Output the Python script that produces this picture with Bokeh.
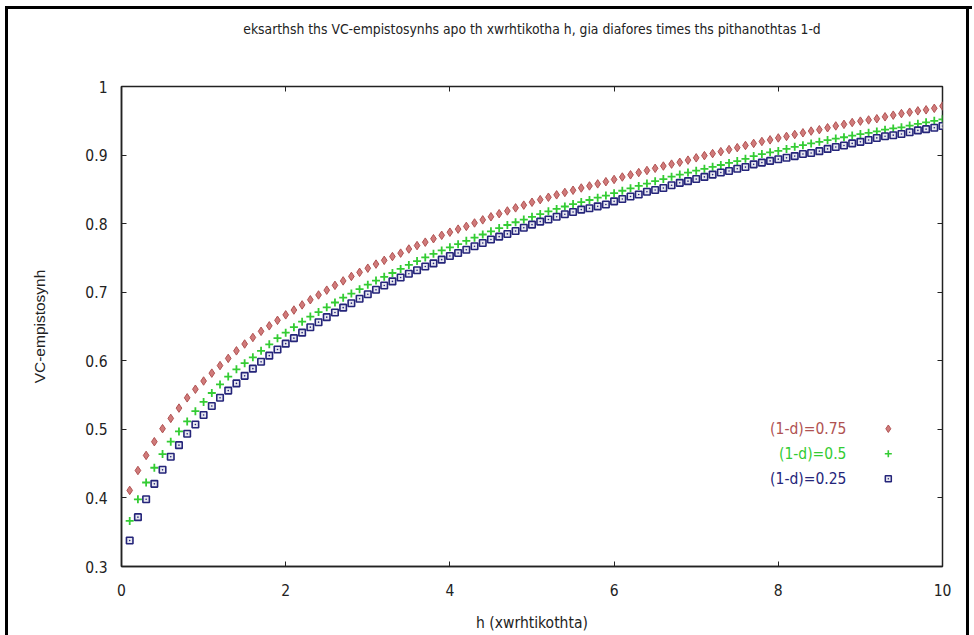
from bokeh.plotting import figure
from bokeh.models import Range1d, LinearAxis, FixedTicker, Label
from bokeh.embed import file_html
from bokeh.resources import INLINE

# h grid: 0.1 .. 10.0 in steps of 0.1
h = [round(0.1 * k, 1) for k in range(1, 101)]

# VC confidence for (1-d) = 0.75
conf_075 = [
    0.411, 0.440, 0.462, 0.482, 0.501, 0.516, 0.531, 0.546, 0.5585, 0.5705,
    0.582, 0.593, 0.6035, 0.6145, 0.6245, 0.634, 0.643, 0.651, 0.659, 0.667,
    0.674, 0.6815, 0.689, 0.696, 0.703, 0.710, 0.7165, 0.723, 0.729, 0.735,
    0.741, 0.7465, 0.752, 0.757, 0.763, 0.768, 0.773, 0.778, 0.783, 0.7875,
    0.792, 0.796, 0.801, 0.8055, 0.810, 0.8145, 0.8185, 0.823, 0.827, 0.8312,
    0.835, 0.8385, 0.842, 0.8455, 0.8487, 0.852, 0.855, 0.858, 0.8612, 0.8644,
    0.868, 0.8712, 0.8745, 0.8775, 0.8807, 0.884, 0.8868, 0.8895, 0.8926, 0.896,
    0.8992, 0.9022, 0.905, 0.908, 0.9108, 0.914, 0.917, 0.9198, 0.9222, 0.925,
    0.9272, 0.930, 0.9325, 0.935, 0.937, 0.9398, 0.9425, 0.9448, 0.9475, 0.9495,
    0.9512, 0.953, 0.9558, 0.9582, 0.9605, 0.9625, 0.9645, 0.966, 0.9682, 0.9715,
]

# VC confidence for (1-d) = 0.5
conf_050 = [
    0.3665, 0.398, 0.4225, 0.444, 0.464, 0.482, 0.497, 0.5115, 0.5265, 0.540,
    0.553, 0.5655, 0.577, 0.5875, 0.5965, 0.605, 0.6145, 0.624, 0.633, 0.641,
    0.649, 0.657, 0.6645, 0.671, 0.678, 0.685, 0.692, 0.698, 0.7045, 0.711,
    0.717, 0.7225, 0.728, 0.734, 0.7398, 0.7454, 0.7508, 0.756, 0.761, 0.7655,
    0.770, 0.775, 0.7795, 0.7842, 0.7888, 0.7935, 0.798, 0.802, 0.806, 0.810,
    0.814, 0.818, 0.8215, 0.825, 0.8285, 0.8315, 0.8345, 0.8378, 0.841, 0.8445,
    0.848, 0.8515, 0.855, 0.8585, 0.862, 0.865, 0.8685, 0.8715, 0.8745, 0.8772,
    0.880, 0.8828, 0.8855, 0.8885, 0.8912, 0.8945, 0.8985, 0.9015, 0.904, 0.906,
    0.909, 0.912, 0.9145, 0.917, 0.9193, 0.9218, 0.924, 0.926, 0.9285, 0.9306,
    0.9325, 0.9345, 0.937, 0.9389, 0.9405, 0.943, 0.9455, 0.9478, 0.950, 0.9521,
]

# VC confidence for (1-d) = 0.25
conf_025 = [
    0.338, 0.372, 0.398, 0.4205, 0.441, 0.460, 0.477, 0.4935, 0.507, 0.521,
    0.534, 0.546, 0.5565, 0.567, 0.578, 0.5885, 0.5985, 0.6075, 0.6165, 0.625,
    0.633, 0.641, 0.649, 0.6563, 0.6636, 0.6705, 0.6775, 0.684, 0.6905, 0.697,
    0.7035, 0.7098, 0.7158, 0.7215, 0.727, 0.732, 0.7375, 0.742, 0.7475, 0.7528,
    0.7572, 0.762, 0.767, 0.7717, 0.7768, 0.781, 0.785, 0.7893, 0.794, 0.7985,
    0.803, 0.806, 0.810, 0.8137, 0.817, 0.8205, 0.8225, 0.8252, 0.828, 0.8325,
    0.836, 0.8395, 0.8425, 0.8465, 0.849, 0.852, 0.856, 0.8595, 0.862, 0.865,
    0.8682, 0.8715, 0.8745, 0.8768, 0.880, 0.8825, 0.8865, 0.889, 0.8915, 0.894,
    0.896, 0.8985, 0.9015, 0.903, 0.9057, 0.909, 0.9118, 0.914, 0.917, 0.9193,
    0.922, 0.925, 0.9275, 0.929, 0.9308, 0.9332, 0.936, 0.9378, 0.9398, 0.9423,
]

title_text = "eksarthsh ths VC-empistosynhs apo th xwrhtikotha h, gia diafores times ths pithanothtas 1-d"
series_labels = ["(1-d)=0.75", "(1-d)=0.5", "(1-d)=0.25"]
x_ticks = [0, 2, 4, 6, 8, 10]
y_ticks = [0.3, 0.4, 0.5, 0.6, 0.7, 0.8, 0.9, 1.0]

NARROW = "'DejaVu Sans Condensed', 'Liberation Sans Narrow', 'Liberation Sans', sans-serif"
REGULAR = "'Liberation Sans', Arial, sans-serif"
TXT = "#222222"
FS = "15.5px"

p = figure(
    width=974, height=635,
    x_range=Range1d(0, 10), y_range=Range1d(0.3, 1.0),
    output_backend="svg", toolbar_location=None,
    min_border_left=121, min_border_right=32,
    min_border_top=86, min_border_bottom=69,
    x_axis_label="h (xwrhtikothta)", y_axis_label="VC-empistosynh",
)
# transparent outer canvas so the page frame drawn by the host element shows through
p.background_fill_color = "white"
p.border_fill_color = None
p.styles = {
    "background-color": "white",
    "background-image": "linear-gradient(#000, #000), linear-gradient(#000, #000), linear-gradient(#000, #000)",
    "background-size": "3px 700px, 967px 3px, 3px 700px",
    "background-position": "5px 6px, 5px 6px, 966px 6px",
    "background-repeat": "no-repeat",
}
p.outline_line_color = "#222222"
p.outline_line_width = 1.5
p.xgrid.visible = False
p.ygrid.visible = False

for ax in (p.xaxis[0], p.yaxis[0]):
    ax.axis_line_color = "#222222"
    ax.axis_line_width = 1.5
    ax.major_tick_in = 5
    ax.major_tick_out = 0
    ax.minor_tick_line_color = None
    ax.major_tick_line_color = "#222222"
    ax.major_label_text_font = NARROW
    ax.major_label_text_font_size = FS
    ax.major_label_text_color = TXT
    ax.axis_label_text_font_size = FS
    ax.axis_label_text_font_style = "normal"
    ax.axis_label_text_color = TXT

p.xaxis[0].ticker = FixedTicker(ticks=x_ticks)
p.yaxis[0].ticker = FixedTicker(ticks=y_ticks)
p.yaxis[0].major_label_overrides = {1: "1"}
p.xaxis[0].axis_label_text_font = NARROW
p.yaxis[0].axis_label_text_font = REGULAR
p.xaxis[0].major_label_standoff = 17
p.yaxis[0].major_label_standoff = 14
p.xaxis[0].axis_label_standoff = 15
p.yaxis[0].axis_label_standoff = 34

# mirrored tick marks on the top edge; the chart heading sits above them
top_ax = LinearAxis(ticker=FixedTicker(ticks=x_ticks), major_tick_in=5, major_tick_out=0,
                    minor_tick_line_color=None, axis_line_color=None,
                    major_tick_line_color="#222222",
                    major_label_text_font_size="1px", major_label_text_color=None,
                    major_label_standoff=0,
                    axis_label=title_text, axis_label_text_font=NARROW,
                    axis_label_text_font_size="13.8px", axis_label_text_font_style="normal",
                    axis_label_text_color=TXT, axis_label_standoff=50)
# mirrored tick marks on the right edge
right_ax = LinearAxis(ticker=FixedTicker(ticks=y_ticks), major_tick_in=5, major_tick_out=0,
                      minor_tick_line_color=None, axis_line_color=None,
                      major_tick_line_color="#222222",
                      major_label_text_font_size="1px", major_label_text_color=None,
                      major_label_standoff=0)
p.add_layout(top_ax, "above")
p.add_layout(right_ax, "right")

RED_FILL, RED_LINE = "#d07a7a", "#b05252"
GREEN = "#33cc33"
BLUE = "#25257a"

p.scatter(h, conf_075, marker="diamond", size=8.5, fill_color=RED_FILL, line_color=RED_LINE, line_width=1)
p.scatter(h, conf_050, marker="cross", size=8, line_color=GREEN, line_width=1.8)
p.scatter(h, conf_025, marker="square_dot", size=6.5, fill_color="#e8e8f0", line_color=BLUE, line_width=1.6)

# key: coloured label on the left, sample marker on the right
key_y = [0.5009, 0.4644, 0.4279]
key_colors = [RED_LINE, GREEN, BLUE]
for lab, yy, col in zip(series_labels, key_y, key_colors):
    p.add_layout(Label(x=8.83, y=yy, text=lab, text_align="right", text_baseline="middle",
                       text_font=NARROW, text_font_size=FS, text_color=col))
p.scatter([9.34], [key_y[0]], marker="diamond", size=7.5, fill_color=RED_FILL, line_color=RED_LINE, line_width=1)
p.scatter([9.34], [key_y[1]], marker="cross", size=7, line_color=GREEN, line_width=1.6)
p.scatter([9.34], [key_y[2]], marker="square_dot", size=6, fill_color="#e8e8f0", line_color=BLUE, line_width=1.5)

open("out.html", "w").write(file_html(p, INLINE))
